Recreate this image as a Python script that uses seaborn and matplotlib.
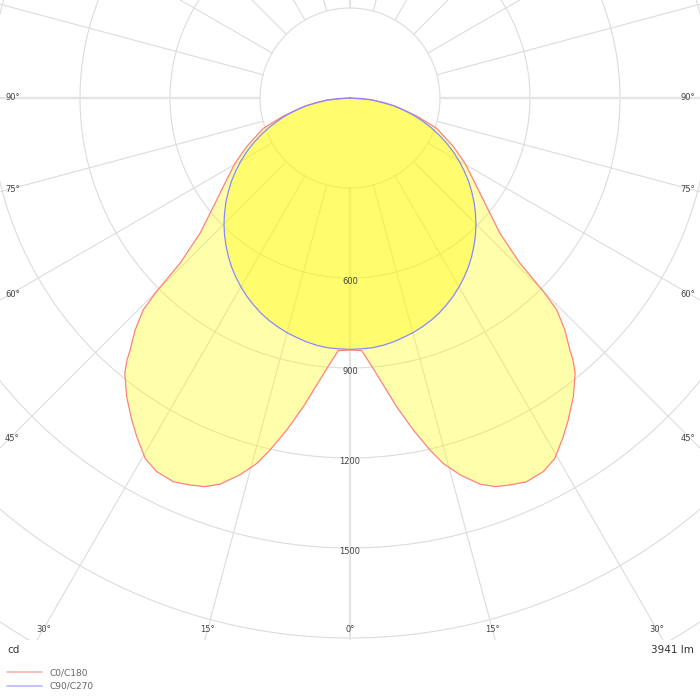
import numpy as np
import pandas as pd
import matplotlib
matplotlib.use('Agg')
import matplotlib.pyplot as plt
import seaborn as sns
from matplotlib.lines import Line2D
from matplotlib.patches import Rectangle

sns.set_style('white')
plt.rcParams['font.family'] = ['DejaVu Sans']

# luminous intensity (cd), gamma angle in degrees
c0_angles = [0, 2.65, 4.3, 6.1, 8.6, 10.8, 12.8, 14.3, 16.3, 18.6, 20.5, 22.5,
             24.7, 27.4, 29.6, 32.2, 34.1, 36.8, 39.3, 40.4, 41.1, 42.8, 44.3,
             45.0, 45.8, 47.95, 51.5, 55.0, 60.4, 64.8, 70.7, 75, 80, 85, 90]
c0_cd = [840, 843, 887, 945, 1041, 1127, 1203, 1257, 1309, 1358, 1383, 1396,
         1408, 1402, 1382, 1334, 1297, 1243, 1185, 1147, 1115, 1054, 987,
         912, 790, 673, 582, 516, 441, 381, 306, 228, 150, 75, 0]

c90_angles = [0, 2.5, 5, 7.5, 10, 12.5, 15, 17.5, 20, 22.5, 25, 27.5, 30, 32.5,
              35, 37.5, 40, 42.5, 45, 47.5, 50, 52.5, 55, 57.5, 60, 62.5, 65,
              67.5, 70, 72.5, 75, 77.5, 80, 82.5, 85, 87.5, 90]
c90_cd = [838, 837, 836, 832, 826, 818, 810, 800, 789, 776, 761, 745, 727, 708,
          688, 666, 643, 619, 594, 567, 540, 511, 482, 451, 420, 388, 355,
          321, 287, 252, 217, 182, 146, 110, 73, 37, 0]

ring_values = [300, 600, 900, 1200, 1500, 1800, 2100, 2400]
ring_labels = [600, 900, 1200, 1500]
bottom_angles = [0, 15, 30]
side_angles = [45, 60, 75, 90]
flux_text = '3941 lm'
unit_text = 'cd'
curve_names = ['C0/C180', 'C90/C270']

# layout: diagram centre sits at pixel (350, 98), 0.3 px per cd
SCALE = 0.3
CX, CY = 350, 98


def px(xp, yp):
    return (xp - CX) / SCALE, (CY - yp) / SCALE


def full_curve(angles, vals):
    a = np.array(angles, dtype=float)
    v = np.array(vals, dtype=float)
    # left half (C180 / C270) mirrors the right half
    th = np.concatenate([-a[::-1], a[1:]])
    rr = np.concatenate([v[::-1], v[1:]])
    t = np.radians(th)
    return rr * np.sin(t), -rr * np.cos(t)


fig = plt.figure(figsize=(7, 7), dpi=100)
ax = fig.add_axes([0, 0, 1, 1])
x0, y0 = px(0, 700)
x1, y1 = px(700, 0)

clip_bottom = px(0, 640)[1]
clip = Rectangle((x0, clip_bottom), x1 - x0, y1 - clip_bottom, transform=ax.transData)

# grid rings
t = np.linspace(0, 2 * np.pi, 1441)
for r in ring_values:
    ln, = ax.plot(r * np.sin(t), r * np.cos(t), color='#dcdcdc', lw=0.8, zorder=1)
    ln.set_clip_path(clip)

# radial lines every 15 degrees, starting on the 300 cd ring
for a in range(0, 360, 15):
    ar = np.radians(a)
    main = a % 90 == 0
    ln, = ax.plot([300 * np.sin(ar), 4000 * np.sin(ar)],
                  [-300 * np.cos(ar), -4000 * np.cos(ar)],
                  color='#e4e4e4' if main else '#dcdcdc',
                  lw=1.7 if main else 0.8, zorder=1)
    ln.set_clip_path(clip)

# curves
xa, ya = full_curve(c0_angles, c0_cd)
xb, yb = full_curve(c90_angles, c90_cd)
ax.fill(xa, ya, color='#ffff00', alpha=0.33, lw=0, zorder=2)
ax.fill(xb, yb, color='#fffa00', alpha=0.36, lw=0, zorder=2)

df = pd.concat([
    pd.DataFrame({'x': xa, 'y': ya, 'curve': curve_names[0]}),
    pd.DataFrame({'x': xb, 'y': yb, 'curve': curve_names[1]}),
], ignore_index=True)
sns.lineplot(data=df, x='x', y='y', hue='curve', sort=False, estimator=None,
             palette={curve_names[0]: '#ff8080', curve_names[1]: '#8888ff'},
             lw=0.9, legend=False, ax=ax, zorder=3)

ax.set_xlim(x0, x1)
ax.set_ylim(y0, y1)
ax.set_aspect('equal')
ax.axis('off')

txt = dict(fontsize=6, color='#444444', zorder=4)

# intensity labels along the 0 degree line
for v in ring_labels:
    ax.text(0, -v - 3 / SCALE, str(v), ha='center', va='center', **txt)

# angle labels
for a in bottom_angles:
    dx = 531 * np.tan(np.radians(a))
    sides = [0] if a == 0 else [-1, 1]
    for s in sides:
        ax.text(*px(CX + s * dx, 629), f'{a}°', ha='center', va='center', **txt)
for a in side_angles:
    yp = CY + 340 / np.tan(np.radians(a)) if a != 90 else CY
    ax.text(*px(5, yp), f'{a}°', ha='left', va='center', **txt)
    ax.text(*px(695, yp), f'{a}°', ha='right', va='center', **txt)

ax.text(*px(7, 650), unit_text, ha='left', va='center', fontsize=7.5, color='#333333')
ax.text(*px(694, 650), flux_text, ha='right', va='center', fontsize=7.5, color='#333333')

handles = [Line2D([], [], color='#ffb0b0', lw=1.2),
           Line2D([], [], color='#b8b8ff', lw=1.2)]
ax.legend(handles, curve_names, loc='upper left',
          bbox_to_anchor=(7 / 700, 1 - 668 / 700), frameon=False,
          fontsize=6.5, labelcolor='#666666', handlelength=3.9,
          handletextpad=0.8, labelspacing=0.55, borderpad=0, borderaxespad=0)

fig.savefig('out.png', dpi=100)
